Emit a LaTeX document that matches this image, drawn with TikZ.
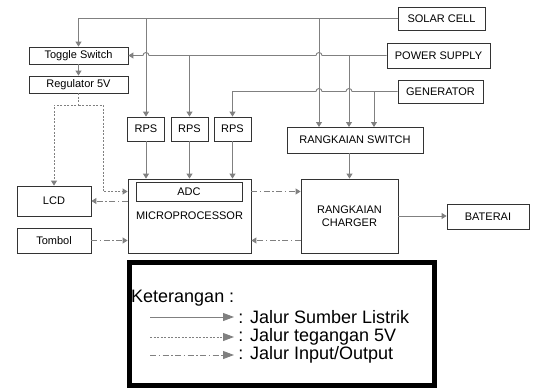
\documentclass[tikz,border=0pt]{standalone}
\usepackage{fontspec}
\setmainfont{Liberation Sans}
\usetikzlibrary{arrows.meta}

\begin{document}
\begin{tikzpicture}[x=1pt,y=-1pt,
  box/.style={draw=black!80,line width=0.8pt,inner sep=0pt,align=center,font=\fontsize{11}{13}\selectfont},
  src/.style={draw=black!50,line width=0.9pt,-{Triangle[length=5pt,width=6pt]}},
  volt/.style={src,dash pattern=on 2pt off 1.5pt},
  io/.style={src,dash pattern=on 6pt off 2.5pt on 1.5pt off 2.5pt},
  keytip/.style={-{Triangle[length=11pt,width=8pt]}}]
\useasboundingbox (0,0) rectangle (539,389);
\node[box,minimum width=87pt,minimum height=23pt] (solar) at (441.5,18.5) {SOLAR CELL};
\node[box,minimum width=103pt,minimum height=25pt] (power) at (438.5,55.5) {POWER SUPPLY};
\node[box,minimum width=85pt,minimum height=23pt] (gen) at (440.5,91.5) {GENERATOR};
\node[box,minimum width=99pt,minimum height=17pt] (toggle) at (78.5,55.5) {Toggle Switch};
\node[box,minimum width=99pt,minimum height=17pt] (reg) at (78.5,84.5) {Regulator 5V};
\foreach \n/\x in {1/146,2/189.5,3/232.5} {
  \node[box,minimum width=37pt,minimum height=24pt] (rps\n) at (\x,129) {RPS};
}
\node[box,minimum width=136pt,minimum height=26pt] (rswitch) at (355,140) {RANGKAIAN SWITCH};
\node[box,minimum width=123pt,minimum height=74pt] (micro) at (189.5,216) {MICROPROCESSOR};
\node[box,minimum width=106pt,minimum height=19pt] (adc) at (189,191.5) {ADC};
\node[box,minimum width=74pt,minimum height=30pt] (lcd) at (54,201) {LCD};
\node[box,minimum width=74pt,minimum height=25pt] (tombol) at (54,240.5) {Tombol};
\node[box,minimum width=97pt,minimum height=74pt] (charger) at (349.5,216) {RANGKAIAN\\CHARGER};
\node[box,minimum width=82pt,minimum height=25pt] (baterai) at (488,216.5) {BATERAI};

\coordinate (in1) at (319,127);
\coordinate (in2) at (349,127);
\coordinate (in3) at (374,127);
\coordinate (p0) at (rps1.north |- power.west);
\coordinate (p1) at (in1 |- power.west);
\coordinate (g1) at (in1 |- gen.west);
\coordinate (g2) at (in2 |- gen.west);
\coordinate (split) at (78.5,105);
\coordinate (bend) at (103,105);

\draw[src] (solar.west) -| (toggle.north);
\draw[src] (toggle.south) -- (reg.north);
\draw[src] (rps1.north |- solar.west) -- (rps1.north);
\draw[src] (in1 |- solar.west) -- (in1);
\draw[src] (power.west) -- ([xshift=3pt]p1) arc[start angle=0,end angle=180,radius=3pt]
  -- ([xshift=3pt]p0) arc[start angle=0,end angle=180,radius=3pt] -- (toggle.east);
\draw[src] (rps2.north |- power.west) -- (rps2.north);
\draw[src] (in2 |- power.west) -- (in2);
\draw[src] (gen.west) -- ([xshift=3pt]g2) arc[start angle=0,end angle=180,radius=3pt]
  -- ([xshift=3pt]g1) arc[start angle=0,end angle=180,radius=3pt] -| (rps3.north);
\draw[src] (in3 |- gen.west) -- (in3);
\foreach \n in {1,2,3} {
  \draw[src] (rps\n.south) -- (rps\n.south |- micro.north);
}
\draw[src] (charger.north |- rswitch.south) -- (charger.north);
\draw[src] (charger.east) -- (charger.east -| baterai.west);

\draw[volt] (reg.south) -- (split) -| (lcd.north);
\draw[volt] (split) -- (bend) |- (micro.west |- adc.west);
\draw[io] (micro.west |- lcd.east) -- (lcd.east);
\draw[io] (tombol.east) -- (micro.west |- tombol.east);
\draw[io] (micro.east |- adc.east) -- (charger.west |- adc.east);
\draw[io] (charger.west |- tombol.east) -- (micro.east |- tombol.east);

\node[draw,line width=5pt,minimum width=305pt,minimum height=123pt] (legend) at (282,324) {};
\node[anchor=west,inner sep=0pt,font=\fontsize{18}{20}\selectfont] (ket) at (131,298) {Keterangan :};
\foreach \y/\s/\t in {317/src/Jalur Sumber Listrik,337/volt/Jalur tegangan 5V,355/io/{Jalur Input/Output}} {
  \draw[\s,keytip] (150,\y) -- (234,\y) node[right,inner sep=4pt,font=\fontsize{18}{20}\selectfont] {: \t};
}
\end{tikzpicture}
\end{document}
